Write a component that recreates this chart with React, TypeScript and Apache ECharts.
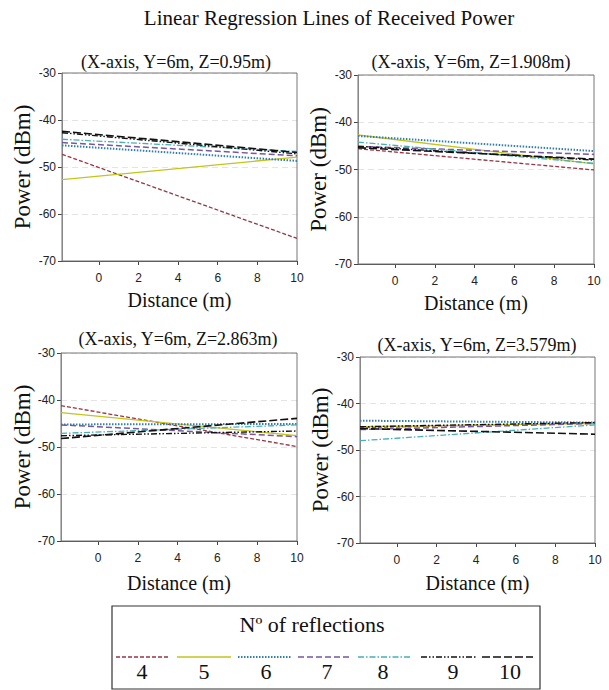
import React, { useEffect, useRef } from "react";
import * as echarts from "echarts";

const reflections = ["4", "5", "6", "7", "8", "9", "10"];
const xStart = -1.86;
const xEnd = 10;
const xTickValues = [0, 2, 4, 6, 8, 10];
const yTickLabels = [-70, -60, -50, -40, -30];
const xAxisName = "Distance (m)";
const yAxisName = "Power (dBm)";

const panelTitles = [
  "(X-axis, Y=6m, Z=0.95m)",
  "(X-axis, Y=6m, Z=1.908m)",
  "(X-axis, Y=6m, Z=2.863m)",
  "(X-axis, Y=6m, Z=3.579m)",
];

// Power at the left (x = xStart) and right (x = xEnd) end of each regression line
const panel1Start = [-47.3, -52.7, -45.4, -44.8, -44.1, -42.7, -42.4];
const panel1End = [-65.2, -47.9, -48.7, -47.6, -46.7, -47.2, -46.9];
const panel2Start = [-45.6, -42.7, -42.9, -45.1, -44.2, -45.1, -45.4];
const panel2End = [-50.1, -48.8, -46.1, -46.8, -48.7, -48.0, -47.8];
const panel3Start = [-41.2, -42.7, -45.2, -45.3, -47.1, -47.6, -48.2];
const panel3End = [-49.9, -47.6, -45.1, -47.8, -45.3, -46.6, -43.9];
const panel4Start = [-45.2, -45.0, -43.7, -45.6, -48.0, -45.0, -45.4];
const panel4End = [-44.1, -44.3, -44.1, -44.3, -44.6, -44.1, -46.6];

const starts = [panel1Start, panel2Start, panel3Start, panel4Start];
const ends = [panel1End, panel2End, panel3End, panel4End];

const colors = ["#9a3344", "#c4c41a", "#2f7fb0", "#7a55a0", "#45b0b8", "#111111", "#111111"];
const dashes: (number[] | string)[] = [
  [4, 2],
  "solid",
  [1.5, 1.5],
  [6, 3],
  [6, 2, 1.5, 2],
  [6, 2, 1.5, 2, 1.5, 2],
  [8, 3],
];
const widths = [1.3, 1.3, 2, 1.5, 1.3, 1.4, 1.6];

const grids = [
  { left: 62, top: 73, width: 235, height: 188 },
  { left: 358, top: 75, width: 236, height: 189 },
  { left: 61, top: 353, width: 236, height: 188 },
  { left: 360, top: 357, width: 235, height: 186 },
];
const titlePos = [
  [176, 62],
  [471, 62],
  [178, 339],
  [477, 345],
];
const xNameOffset = [39, 39, 42, 40];
const yNameOffset = [40, 40, 39, 40];
const legendLineX = [
  [116, 168],
  [177, 231],
  [238, 292],
  [298, 352],
  [358, 412],
  [421, 477],
  [482, 533],
];
const legendLabelX = [142, 204, 266, 327, 383, 453, 510];

const SERIF = "Liberation Serif";
const SANS = "Liberation Sans";

export default function App() {
  const ref = useRef<HTMLDivElement>(null);
  useEffect(() => {
    if (!ref.current) return;
    const chart = echarts.init(ref.current, null, { renderer: "svg" });

    const xAxes = grids.map((_, i) => ({
      type: "value",
      gridIndex: i,
      min: xStart,
      max: xEnd,
      axisLine: { show: true, onZero: false, lineStyle: { color: "#444" } },
      axisTick: { show: true, customValues: xTickValues, length: 4, lineStyle: { color: "#444" } },
      axisLabel: { customValues: xTickValues, fontFamily: SANS, fontSize: 12, color: "#222", margin: 11 },
      splitLine: { show: false },
    }));
    const yAxes = grids.map((_, i) => ({
      type: "value",
      gridIndex: i,
      min: -70,
      max: -30,
      interval: 10,
      axisLine: { show: true, onZero: false, lineStyle: { color: "#999" } },
      axisTick: { show: true, length: 4, lineStyle: { color: "#444" } },
      axisLabel: {
        fontFamily: SANS,
        fontSize: 12,
        color: "#222",
        margin: 6,
        formatter: (v: number) => (yTickLabels.includes(v) ? String(v) : ""),
      },
      splitLine: { show: true, lineStyle: { color: "#e4e4e4", type: [6, 4] } },
    }));

    const series: any[] = [];
    grids.forEach((_, p) => {
      reflections.forEach((name, r) => {
        series.push({
          type: "line",
          name,
          xAxisIndex: p,
          yAxisIndex: p,
          symbol: "none",
          data: [
            [xStart, starts[p][r]],
            [xEnd, ends[p][r]],
          ],
          lineStyle: { color: colors[r], type: dashes[r], width: widths[r] },
          z: 3 + r,
        });
      });
    });

    const textStyle = (text: string, size: number) => ({
      text,
      fontFamily: SERIF,
      fontSize: size,
      fontWeight: "normal",
      fill: "#111",
      textAlign: "center",
      textVerticalAlign: "middle",
    });

    const graphic: any[] = [
      { type: "text", x: 329, y: 18, style: textStyle("Linear Regression Lines of Received Power", 21) },
      ...panelTitles.map((t, i) => ({
        type: "text",
        x: titlePos[i][0],
        y: titlePos[i][1],
        style: textStyle(t, 18),
      })),
      ...grids.map((g, i) => ({
        type: "text",
        x: g.left + g.width / 2,
        y: g.top + g.height + xNameOffset[i],
        style: textStyle(xAxisName, 20),
      })),
      ...grids.map((g, i) => ({
        type: "text",
        x: g.left - yNameOffset[i],
        y: g.top + g.height / 2,
        rotation: Math.PI / 2,
        style: textStyle(yAxisName, 23),
      })),
      ...grids.map((g) => ({
        type: "rect",
        shape: { x: g.left, y: g.top, width: g.width, height: g.height },
        style: { fill: "none", stroke: "#777", lineWidth: 1 },
        silent: true,
        z: 1,
      })),
      {
        type: "rect",
        shape: { x: 112, y: 606, width: 428, height: 83 },
        style: { fill: "none", stroke: "#333", lineWidth: 1.2 },
      },
      { type: "text", x: 312, y: 624, style: textStyle("Nº of reflections", 22) },
      ...reflections.map((name, r) => ({
        type: "line",
        shape: { x1: legendLineX[r][0], y1: 657, x2: legendLineX[r][1], y2: 657 },
        style: {
          stroke: colors[r],
          lineWidth: widths[r],
          lineDash: Array.isArray(dashes[r]) ? dashes[r] : null,
        },
      })),
      ...reflections.map((name, r) => ({
        type: "text",
        x: legendLabelX[r],
        y: 671,
        style: textStyle(name, 22),
      })),
    ];

    chart.setOption({
      animation: false,
      backgroundColor: "#fff",
      grid: grids.map((g) => ({ ...g, containLabel: false })),
      xAxis: xAxes,
      yAxis: yAxes,
      series,
      graphic,
    });
    return () => chart.dispose();
  }, []);
  return (
    <div
      ref={ref}
      style={{ position: "fixed", left: 0, top: 0, width: 609, height: 690 }}
    />
  );
}
